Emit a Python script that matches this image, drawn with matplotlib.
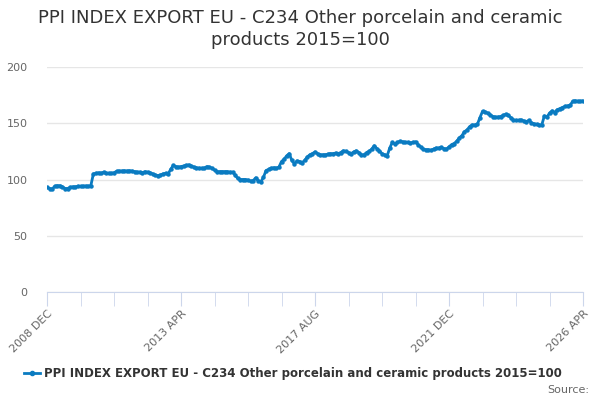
import matplotlib
matplotlib.use("Agg")
import matplotlib.pyplot as plt
import numpy as np

title = "PPI INDEX EXPORT EU - C234 Other porcelain and ceramic\nproducts 2015=100"
series_name = "PPI INDEX EXPORT EU - C234 Other porcelain and ceramic products 2015=100"

# monthly values from 2008 DEC to 2026 APR
values = [
    93, 92, 91.5, 94, 94.5, 94.5, 93.5, 92, 92, 93,
    93.5, 93.5, 94, 93.8, 94, 94.2, 94, 94.5, 105, 105.5,
    106, 105.5, 106.5, 105.5, 105.5, 105.5, 106, 107.3, 107.5, 107.5,
    107.8, 107.5, 107.8, 107.5, 107, 106.5, 106.5, 106, 107, 106.5,
    106, 105, 104, 103.5, 104, 105, 105.5, 105, 109, 112.5,
    111.5, 111, 111.5, 112, 112.5, 113, 112, 111, 110.5, 110,
    110, 110, 111.5, 111, 110, 108.5, 107, 107, 107, 107,
    107, 106.5, 106.5, 104, 101, 100, 100, 100, 99.5, 98.5,
    99, 101.5, 99, 98, 102, 108, 109, 110, 110.5, 110,
    111, 116, 118, 121, 123, 117, 114, 116.5, 116, 115,
    117, 120, 122, 123, 124.5, 123, 122, 122, 122, 122.5,
    123, 123, 123.5, 123, 124, 125.5, 125, 124, 123, 124.5,
    125.5, 124, 122, 122, 124, 125, 127, 130, 127.5, 125.5,
    123, 122, 121, 128, 133, 131.5, 133, 134, 133.5, 133,
    133, 132.5, 133, 133.5, 131, 129, 127, 126.5, 126.5, 126,
    127, 128, 128, 128.5, 127.5, 127, 129, 131, 132, 134,
    137, 139, 142.5, 144, 147, 148.5, 148.5, 149, 155, 160.5,
    160, 159, 157.5, 156, 155.5, 155.5, 156, 157, 158, 157,
    155, 153, 152.5, 152.5, 153, 152, 151.5, 152.5, 150.5, 149.5,
    149, 148.5, 148.5, 156.5, 155.5, 159, 161, 159.5, 162, 163,
    164, 165, 165.5, 166, 169.5, 170, 169.5, 169.5, 170,
]
tick_labels = ["2008 DEC", "2013 APR", "2017 AUG", "2021 DEC", "2026 APR"]
y_ticks = [0, 50, 100, 150, 200]

months = np.arange(len(values))
n = len(values) - 1

fig = plt.figure(figsize=(6, 4), dpi=100)
ax = fig.add_axes([47/600, 1-292/400, (583-47)/600, (292-67)/400])

line_color = "#0a7bc1"
ax.plot(months, values, color=line_color, lw=2, marker="o", ms=2.2, mec=line_color, zorder=3)

ax.set_xlim(0, n)
ax.set_ylim(0, 200)
ax.set_yticks(y_ticks)
ax.set_yticklabels([str(t) for t in y_ticks], color="#666666", fontsize=8)
ax.tick_params(axis="y", length=0, pad=14)
ax.grid(axis="y", color="#e6e6e6", lw=1)
ax.set_axisbelow(True)

minor = np.arange(0, n + 1, 13)
major_pos = [0, 52, 104, 156, 208]
ax.set_xticks(minor, minor=True)
ax.set_xticks(major_pos)
ax.set_xticklabels(tick_labels, rotation=45, ha="right", rotation_mode="anchor",
                   color="#666666", fontsize=8)
ax.tick_params(axis="x", which="both", length=10, color="#ccd6eb", pad=2)

for s in ["top", "right", "left"]:
    ax.spines[s].set_visible(False)
ax.spines["bottom"].set_color("#ccd6eb")

fig.text(0.5, 1-29/400, title, ha="center", va="center", fontsize=13,
         color="#333333", linespacing=1.25)

# legend
lx = 24/600
ly = 1-373/400
fig.add_artist(plt.Line2D([lx, lx+16/600], [ly, ly], color=line_color, lw=2,
                          transform=fig.transFigure))
fig.add_artist(plt.Line2D([lx+8/600], [ly], color=line_color, marker="o", ms=3,
                          transform=fig.transFigure))
fig.text(lx+20/600, ly, series_name, ha="left", va="center", fontsize=8.5,
         fontweight="bold", color="#333333")
fig.text(589/600, 1-390/400, "Source:", ha="right", va="center", fontsize=8, color="#666666")

fig.savefig("out.png", dpi=100)
